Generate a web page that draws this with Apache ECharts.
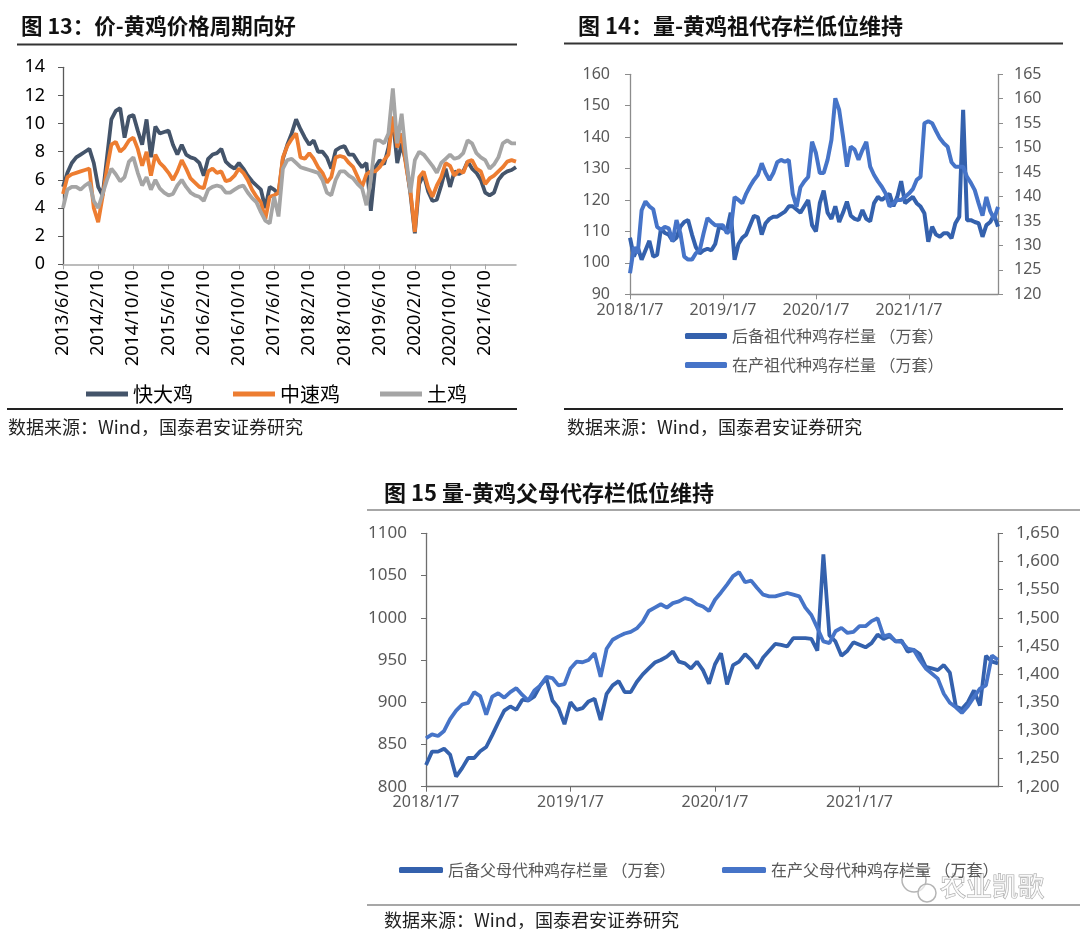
<!DOCTYPE html>
<html><head><meta charset="utf-8">
<script src="https://cdn.jsdelivr.net/npm/echarts@6/dist/echarts.min.js"></script>
<style>html,body{margin:0;padding:0;background:#fff}#c{width:1080px;height:943px}</style>
</head><body><div id="c"></div>
<script>
// ---------- Chart 13 data (monthly, 2013/6 .. 2022/1) ----------
const months13 = [];
(function(){ let y=2013, m=6; while (y<2022 || (y===2022 && m<=1)) { months13.push(y+'/'+m+'/10'); m++; if(m>12){m=1;y++;} } })();
const kuaidaji = [
 5.5,6.5,7.2,7.6,7.8,8.0,8.2,
 7.2,5.5,4.9,7.6,10.3,10.9,11.1,9.0,10.5,10.6,9.5,8.5,
 10.3,7.6,9.8,9.3,9.4,9.5,8.5,7.8,8.5,7.8,7.6,7.5,
 7.2,6.3,7.5,7.8,7.9,8.2,7.3,7.0,6.8,7.2,6.8,6.3,
 5.9,5.6,5.3,4.0,5.5,5.3,5.0,7.5,8.5,9.3,10.3,9.6,
 9.0,8.5,8.8,8.0,8.0,7.6,6.8,8.1,8.3,8.4,7.8,7.8,
 7.3,6.9,7.2,3.8,6.9,7.4,7.1,8.3,10.3,7.2,8.6,7.2,
 5.0,2.2,5.7,6.4,5.2,4.5,4.6,5.6,6.8,5.5,6.6,6.4,
 6.6,7.3,6.8,6.5,6.0,5.1,4.9,5.1,6.0,6.4,6.6,6.7,
 6.9
];
const zhongsuji = [
 5.0,6.2,6.4,6.5,6.6,6.7,6.8,
 4.0,3.0,4.8,6.8,8.5,8.7,8.0,8.3,8.8,9.0,8.2,7.0,
 8.0,6.3,7.8,7.2,6.9,6.5,6.0,6.6,7.4,6.8,6.1,5.8,
 5.5,5.4,6.6,6.8,6.5,6.6,5.9,6.0,6.3,6.8,6.5,6.0,
 5.3,4.8,4.4,3.2,4.8,4.9,5.1,7.6,8.4,8.9,9.3,7.6,
 7.5,7.9,7.5,6.9,6.5,5.8,6.2,7.6,7.7,7.6,7.2,6.9,
 6.2,5.5,6.4,6.6,6.6,6.9,7.4,7.8,10.5,8.3,9.3,7.0,
 5.2,2.3,6.2,6.6,5.5,4.8,5.6,6.2,7.2,7.0,6.3,6.7,
 6.5,7.3,7.4,6.8,6.6,5.7,6.1,6.3,6.6,6.9,7.3,7.4,
 7.3
];
const tuji = [
 4.0,5.3,5.5,5.5,5.3,5.6,5.8,
 4.5,4.0,5.0,6.0,6.8,6.4,5.9,6.2,7.3,7.6,6.5,5.6,
 6.2,5.3,6.0,5.4,5.1,4.9,5.0,5.6,6.0,5.5,5.1,4.9,
 4.8,4.5,5.3,5.5,5.6,5.5,5.1,5.1,5.3,5.5,5.6,5.1,
 4.7,4.4,3.7,3.1,2.9,4.8,3.4,6.8,7.4,7.5,7.2,6.9,
 6.8,6.7,6.6,6.5,6.0,5.1,4.9,6.0,6.6,6.6,6.3,6.1,
 5.7,5.4,4.2,6.0,8.8,8.8,8.6,9.3,12.5,8.6,10.7,7.6,
 5.1,7.4,8.0,7.8,7.4,7.0,6.5,7.2,7.5,7.8,7.5,7.6,
 7.9,8.8,8.6,7.9,7.6,7.4,6.8,7.1,7.6,8.6,8.8,8.6,
 8.6
];
const ticks13 = [0,2,4,6,8,10,12,14];

// ---------- Chart 14 / 15 data (half-monthly, 2018/1/7 .. 2021/12/21) ----------
const halfMonths = [];
for (let y=2018; y<=2021; y++) for (let m=1; m<=12; m++) { halfMonths.push(y+'/'+m+'/7'); halfMonths.push(y+'/'+m+'/21'); }
const zudaiHoubei = [
 108,102,105,101,104,107,102,102.5,111,109.5,109,107,108,111.5,113,113.6,109,105,103,104,104.5,104,106,111.5,
 111,110.5,116,101,106,108,109,112,115,114.5,109,112.6,114,114.7,114.7,115.5,116.3,118,118,117,116,118,120,112,
 110,119,123,116,114,118,113,116,119.5,115,114,113.6,116.8,114,113.2,119,121,120,121,122,118,121,126,119,
 120,121,119,117.9,115.8,106.7,111.5,109,108.3,109.4,109.4,107.8,112.6,114.7,148.7,113.6,113.6,113,112.6,108.3,112,113,115.2,111.5
];
const zudaiZaichan = [
 124.3,129.6,128.4,137.2,139.0,138.0,137.4,133.8,133.2,133.8,133.5,130.8,135.2,132.5,127.7,127.1,127.1,128.4,129.0,132.5,135.6,134.8,134.1,134.1,
 134.1,132.5,133.2,139.9,139.3,138.6,140.6,142.1,143.4,144.4,146.8,144.8,143.4,144.8,147.0,147.5,147.1,147.5,140.6,137.9,141.9,143.1,144.0,151.2,
 148.9,144.8,144.8,147.5,151.6,160.1,157.7,152.2,146.1,150.2,149.6,147.5,149.5,151.2,146.1,144.4,143.1,142.0,140.6,138.0,138.6,139.3,139.3,139.9,
 140.6,141.5,143.4,144.0,155.0,155.4,155.0,153.4,151.9,150.9,150.2,147.0,146.1,146.1,146.1,144.0,142.8,141.3,138.6,136.1,139.9,137.0,135.4,137.9
];
const fumuHoubei = [
 825.7,841.5,841.5,845,838,812,822,834,834,842,847,861,876,890,895,891,903,902,907,920,928,902,893,874,
 900,891,893,901,904,879,910,920,925,912,912,924,933,940,947,950,954,960,948,946,940,948,938,922,
 945,958,921,944,948,957,950,940,953,961,969,968,966,976,976,976,975,961,1075,979,972,955,961,971,
 968,965,970,980,975,978,972,973,960,962,957,942,940,938,944,935,895,892,900,914,896,955,948,946
];
const fumuZaichan = [
 1286,1293,1290,1299,1320,1335,1346,1349,1368,1361,1328,1360,1366,1358,1368,1375,1363,1353,1371,1380,1395,1393,1380,1382,
 1410,1422,1421,1425,1437,1395,1445,1461,1467,1472,1475,1481,1493,1512,1518,1524,1518,1526,1529,1535,1532,1524,1520,1512,
 1532,1545,1559,1574,1581,1563,1566,1553,1541,1538,1538,1541,1544,1541,1538,1518,1505,1482,1458,1455,1476,1482,1473,1475,
 1485,1485,1494,1499,1467,1470,1458,1457,1445,1443,1425,1410,1401,1392,1365,1349,1341,1331,1343,1359,1374,1380,1433,1425
];

const names13 = ['快大鸡','中速鸡','土鸡'];
const names14 = ['后备祖代种鸡存栏量 （万套）','在产祖代种鸡存栏量 （万套）'];
const names15 = ['后备父母代种鸡存栏量 （万套）','在产父母代种鸡存栏量 （万套）'];
const titles = ['图 13：价-黄鸡价格周期向好','图 14：量-黄鸡祖代存栏低位维持','图 15 量-黄鸡父母代存栏低位维持'];
const sourceText = '数据来源：Wind，国泰君安证券研究';

const CJK = "'Noto Sans CJK SC','Noto Sans',sans-serif";
const NUM = "'Noto Sans','Noto Sans CJK SC',sans-serif";
const dark = '#3461AD', light = '#4674C8';

const chart = echarts.init(document.getElementById('c'), null, {renderer:'canvas'});

function catAxis(grid, data, every, opts) {
  return Object.assign({
    gridIndex: grid, type: 'category', data: data, boundaryGap: false,
    axisLine: {lineStyle: {color: '#8c8c8c', width: 1.3}},
    axisTick: {show: true, length: 5, interval: (i) => i % every === 0, lineStyle: {color: '#8c8c8c'}},
    axisLabel: {interval: (i) => i % every === 0, fontSize: 16, color: '#595959', fontFamily: NUM, margin: 8},
    splitLine: {show: false}
  }, opts || {});
}
function valAxis(grid, min, max, step, pos, lab, line) {
  return {
    gridIndex: grid, type: 'value', min: min, max: max, interval: step, position: pos,
    axisLine: {show: true, lineStyle: {color: line || '#8c8c8c', width: 1.3}},
    axisTick: {show: true, length: 5, lineStyle: {color: line || '#8c8c8c'}},
    splitLine: {show: false},
    axisLabel: Object.assign({fontSize: 16, color: '#595959', fontFamily: NUM}, lab)
  };
}
function lineSeries(name, xi, yi, data, color, w) {
  return {name: name, type: 'line', xAxisIndex: xi, yAxisIndex: yi, data: data, showSymbol: false, symbol: 'none',
    lineStyle: {color: color, width: w}, itemStyle: {color: color}, animation: false};
}
function txt(x, y, text, size, weight, color, extra) {
  return Object.assign({type: 'text', x: x, y: y, silent: true,
    style: {text: text, fontSize: size, fontWeight: weight || 'normal', fontFamily: CJK, fill: color || '#000',
      textVerticalAlign: 'middle', verticalAlign: 'middle'}}, extra || {});
}
function hline(x1, x2, y, color, w) {
  return {type: 'line', silent: true, shape: {x1: x1, y1: y, x2: x2, y2: y}, style: {stroke: color, lineWidth: w}};
}

const option = {
  animation: false,
  backgroundColor: '#fff',
  grid: [
    {left: 63, top: 67.3, width: 453, height: 197},
    {left: 630, top: 74.3, width: 368, height: 220},
    {left: 426, top: 533.3, width: 572, height: 253.4}
  ],
  xAxis: [
    catAxis(0, months13, 8, {
      axisLine: {lineStyle: {color: '#a6a6a6', width: 1.5}},
      axisTick: {show: true, length: 5, interval: (i) => i % 8 === 0, lineStyle: {color: '#a6a6a6'}},
      axisLabel: {interval: (i) => i % 8 === 0, rotate: 90, fontSize: 18, color: '#000', fontFamily: NUM, margin: 6}
    }),
    catAxis(1, halfMonths, 24),
    catAxis(2, halfMonths, 24, {axisLine: {lineStyle: {color: '#6e6e6e', width: 1.3}}, axisTick: {show: true, length: 5, interval: (i) => i % 24 === 0, lineStyle: {color: '#6e6e6e'}}})
  ],
  yAxis: [
    valAxis(0, ticks13[0], ticks13[ticks13.length-1], 2, 'left', {fontSize: 18, color: '#000', margin: 18}, '#595959'),
    valAxis(1, 90, 160, 10, 'left', {margin: 20}),
    valAxis(1, 120, 165, 5, 'right', {margin: 16}),
    valAxis(2, 800, 1100, 50, 'left', {fontSize: 17, margin: 19, formatter: (v) => String(v)}, '#6e6e6e'),
    valAxis(2, 1200, 1650, 50, 'right', {fontSize: 17, margin: 18, formatter: (v) => v.toLocaleString('en-US')}, '#6e6e6e')
  ],
  legend: [
    {data: names13, left: 86, top: 384, padding: 0, icon: 'rect', itemWidth: 42, itemHeight: 5, itemGap: 40, selectedMode: false,
      textStyle: {fontSize: 20, color: '#000', fontFamily: CJK}},
    {data: names14, orient: 'vertical', left: 685, top: 328, padding: 0, icon: 'roundRect', itemWidth: 42, itemHeight: 6, itemGap: 13, selectedMode: false,
      textStyle: {fontSize: 16, color: '#595959', fontFamily: CJK}},
    {data: [names15[0]], left: 399, top: 862, padding: 0, icon: 'roundRect', itemWidth: 44, itemHeight: 6, selectedMode: false,
      textStyle: {fontSize: 16, color: '#595959', fontFamily: CJK}},
    {data: [names15[1]], left: 722, top: 862, padding: 0, icon: 'roundRect', itemWidth: 44, itemHeight: 6, selectedMode: false,
      textStyle: {fontSize: 16, color: '#595959', fontFamily: CJK}}
  ],
  series: [
    lineSeries(names13[0], 0, 0, kuaidaji, '#44546A', 3.8),
    lineSeries(names13[1], 0, 0, zhongsuji, '#ED7D31', 3.8),
    lineSeries(names13[2], 0, 0, tuji, '#A5A5A5', 3.8),
    lineSeries(names14[0], 1, 1, zudaiHoubei, dark, 4),
    lineSeries(names14[1], 1, 2, zudaiZaichan, light, 4),
    lineSeries(names15[0], 2, 3, fumuHoubei, dark, 3.8),
    lineSeries(names15[1], 2, 4, fumuZaichan, light, 3.8)
  ],
  graphic: [
    txt(21, 26, titles[0], 21.5, 'bold', '#111'),
    hline(17, 517, 44.5, '#333', 2),
    txt(578, 26, titles[1], 22, 'bold', '#111'),
    hline(564, 1063, 43.5, '#333', 2),
    txt(384, 493, titles[2], 22, 'bold', '#111'),
    hline(367, 1080, 510, '#8a8a8a', 1.5),
    hline(7, 517, 409, '#222', 2),
    txt(8, 427, sourceText, 18, 'normal', '#222'),
    hline(564, 1063, 409, '#222', 2),
    txt(567, 427, sourceText, 18, 'normal', '#222'),
    hline(367, 1080, 905, '#8a8a8a', 1.5),
    txt(384, 920, sourceText, 18, 'normal', '#222'),
    {type: 'circle', silent: true, shape: {cx: 914, cy: 880, r: 12}, style: {fill: 'rgba(255,255,255,0.6)', stroke: '#b5b5b5', lineWidth: 1.5}},
    {type: 'circle', silent: true, shape: {cx: 927, cy: 893, r: 9}, style: {fill: 'rgba(255,255,255,0.6)', stroke: '#b5b5b5', lineWidth: 1.5}},
    txt(940, 886, '农业凯歌', 26, 'normal', 'rgba(255,255,255,0.85)', {style: {text: '农业凯歌', fontSize: 26, fontFamily: CJK, fill: 'rgba(255,255,255,0.85)', stroke: '#a8a8a8', lineWidth: 1.2, textVerticalAlign: 'middle', verticalAlign: 'middle'}})
  ]
};
chart.setOption(option);
</script>
</body></html>
